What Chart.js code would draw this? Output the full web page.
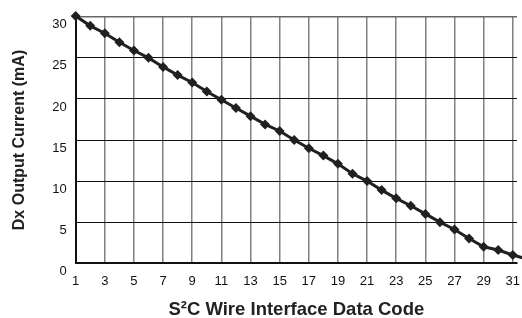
<!DOCTYPE html>
<html>
<head>
<meta charset="utf-8">
<script src="https://cdn.jsdelivr.net/npm/chart.js@4/dist/chart.umd.min.js"></script>
<style>
  html, body { margin: 0; padding: 0; background: #fff; }
  #wrap { width: 522px; height: 318px; }
</style>
</head>
<body>
<div id="wrap"><canvas id="c" width="522" height="318"></canvas></div>
<script>
const codes   = [1,2,3,4,5,6,7,8,9,10,11,12,13,14,15,16,17,18,19,20,21,22,23,24,25,26,27,28,29,30,31,32];
const current = [30.1,28.9,28.0,26.9,25.9,25.0,23.9,22.9,22.0,20.9,19.9,18.9,17.9,16.9,16.1,15.0,
                 14.0,13.1,12.1,10.9,10.0,8.9,7.9,7.0,6.0,5.0,4.1,3.0,2.0,1.6,1.0,0.5];
const xTicks  = [1,3,5,7,9,11,13,15,17,19,21,23,25,27,29,31];
const yTicks  = [0,5,10,15,20,25,30];

const font = "'Liberation Sans', Arial, sans-serif";

new Chart(document.getElementById('c').getContext('2d'), {
  type: 'line',
  data: {
    datasets: [{
      data: codes.map((c, i) => ({ x: c, y: current[i] })),
      borderColor: '#231f20',
      backgroundColor: '#231f20',
      borderWidth: 3,
      pointStyle: 'rectRot',
      pointRadius: 5,
      pointBorderWidth: 0,
      clip: false,
      tension: 0
    }]
  },
  options: {
    responsive: false,
    animation: false,
    devicePixelRatio: 1,
    layout: { padding: { top: 15, right: 0, left: 10, bottom: -3 } },
    plugins: { legend: { display: false }, tooltip: { enabled: false } },
    scales: {
      x: {
        type: 'linear', min: 1, max: 31.29,
        afterBuildTicks: s => { s.ticks = xTicks.map(v => ({ value: v })); },
        // the plot runs off the right edge, so no room is kept for the last label
        afterFit: s => { s.paddingRight = 0; },
        grid: { color: '#808080', lineWidth: 1.5, drawTicks: false },
        border: { color: '#111', width: 2 },
        ticks: { color: '#111', padding: 10, font: { family: font, size: 13 }, maxRotation: 0, autoSkip: false },
        title: { display: true, text: 'S\u00B2C Wire Interface Data Code', color: '#222',
                 font: { family: font, size: 18.5, weight: 'bold' }, padding: { top: 0, bottom: 0 } }
      },
      y: {
        min: 0, max: 30,
        afterBuildTicks: s => { s.ticks = yTicks.map(v => ({ value: v })); },
        grid: { color: c => c.tick && c.tick.value === 30 ? '#666' : '#111',
                lineWidth: c => c.tick && c.tick.value === 30 ? 1.5 : 1, drawTicks: false },
        border: { color: '#111', width: 2 },
        ticks: { color: '#111', padding: 9, labelOffset: 8, font: { family: font, size: 13 } },
        title: { display: true, text: 'Dx Output Current (mA)', color: '#222',
                 font: { family: font, size: 16, weight: 'bold' }, padding: { top: 0, bottom: 14 } }
      }
    }
  }
});
</script>
</body>
</html>
